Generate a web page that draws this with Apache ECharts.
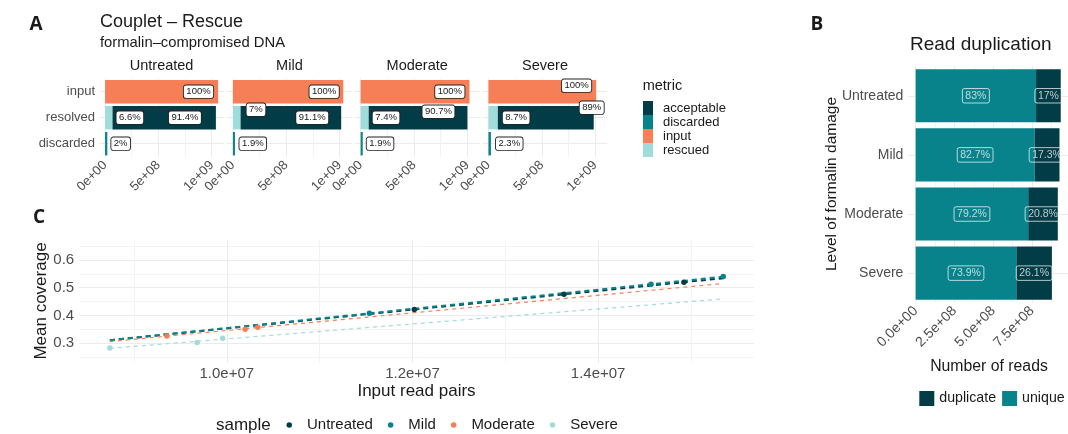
<!DOCTYPE html>
<html>
<head>
<meta charset="utf-8">
<title>Couplet – Rescue</title>
<script src="https://cdn.jsdelivr.net/npm/echarts@6/dist/echarts.min.js"></script>
<style>
  html, body { margin: 0; padding: 0; background: #fff; }
  #chart { width: 1068px; height: 434px; }
</style>
</head>
<body>
<div id="chart"></div>
<script>
// ---- Panel A: fate of input reads per damage level ----
const damageLevels = ['Untreated', 'Mild', 'Moderate', 'Severe'];
const fateRows = ['input', 'resolved', 'discarded'];
const metrics = ['acceptable', 'discarded', 'input', 'rescued'];
const inputReads = [1.06e9, 1.035e9, 1.02e9, 1.01e9];
const rescuedPct = [6.6, 7, 7.4, 8.7];
const acceptablePct = [91.4, 91.1, 90.7, 89];
const discardedPct = [2, 1.9, 1.9, 2.3];

// ---- Panel B: read duplication ----
const dupLevels = ['Untreated', 'Mild', 'Moderate', 'Severe'];
const totalReads = [9.35e8, 9.27e8, 9.16e8, 8.78e8];
const uniquePct = [83, 82.7, 79.2, 73.9];
const duplicatePct = [17, 17.3, 20.8, 26.1];

// ---- Panel C: coverage vs input read pairs ----
const samples = ['Untreated', 'Mild', 'Moderate', 'Severe'];
const untreatedPairs = [1.202e7, 1.3633e7, 1.4925e7];
const untreatedCoverage = [0.422, 0.476, 0.520];
const mildPairs = [1.1536e7, 1.457e7, 1.5348e7];
const mildCoverage = [0.408, 0.512, 0.540];
const moderatePairs = [9.354e6, 1.0197e7, 1.0334e7];
const moderateCoverage = [0.326, 0.351, 0.358];
const severePairs = [8.74e6, 9.68e6, 9.955e6];
const severeCoverage = [0.283, 0.303, 0.318];
const coverageLimits = [0.25, 0.65];

// ---- styling ----
const FONT = "'Liberation Sans', Arial, sans-serif";
const INK = '#1a1a1a';
const AXIS_TXT = '#4d4d4d';
const GRID_MAJOR = '#ebebeb';
const GRID_MINOR = '#f3f3f3';
const CLEAR = 'rgba(0,0,0,0)';
const COL = { acceptable: '#023c46', discarded: '#08838b', input: '#f67f58', rescued: '#a0dcda' };
const SAMPLE_COL = ['#023c46', '#08838b', '#f67f58', '#a0dcda'];

// label nudges for the boxed percentages in panel A (px)
const labelNudge = {
  input:      [[-5, 0], [-4.5, 0], [-5, 0], [-5, -6]],
  acceptable: [[-15, 0], [-13, 0], [-13, -6], [10, -10]],
  rescued:    [[4, 0], [6, -8], [4, 0], [5, 0]],
  discarded:  [[4, 0], [4.5, 0], [4, 0], [5, 0]]
};

function sci(v, digits) {
  const parts = v.toExponential(digits).split('e');
  const e = parts[1];
  return parts[0] + 'e' + e[0] + e.slice(1).padStart(2, '0');
}

const grids = [], xAxes = [], yAxes = [], series = [];

// ---------- Panel A facets ----------
const facetLeft0 = 99.4, facetStep = 127.8, facetWidth = 124.4, facetTop = 78.7, facetHeight = 78;
const maxInput = Math.max(...inputReads);
const labelBoxA = {
  show: true, fontFamily: FONT, fontSize: 9.5, color: INK,
  backgroundColor: '#fff', borderColor: '#222', borderWidth: 0.9, borderRadius: 2,
  padding: [1.5, 2.5, 1, 2.5]
};

damageLevels.forEach((lvl, fi) => {
  grids.push({ left: facetLeft0 + fi * facetStep, top: facetTop, width: facetWidth, height: facetHeight });
  xAxes.push({
    type: 'value', gridIndex: fi,
    min: -0.05 * maxInput, max: 1.05 * maxInput,
    splitNumber: 2, minInterval: 5e8, maxInterval: 5e8,
    axisLine: { show: false }, axisTick: { show: false },
    axisLabel: { rotate: 45, margin: 6.5, fontSize: 13, color: AXIS_TXT, fontFamily: FONT,
      showMinLabel: false, showMaxLabel: false, formatter: v => sci(v, 0) },
    splitLine: { show: true, showMinLine: false, showMaxLine: false, lineStyle: { color: GRID_MAJOR, width: 1 } },
    minorTick: { show: false, splitNumber: 2 },
    minorSplitLine: { show: true, lineStyle: { color: GRID_MINOR, width: 1 } }
  });
  yAxes.push({
    type: 'category', gridIndex: fi, data: fateRows, inverse: true,
    axisLine: { show: false }, axisTick: { show: false },
    axisLabel: { show: fi === 0, margin: 4.4, fontSize: 13, color: AXIS_TXT, fontFamily: FONT }
  });
  yAxes.push({
    type: 'value', gridIndex: fi, min: 0, max: 6, interval: 1,
    axisLine: { show: false }, axisTick: { show: false }, axisLabel: { show: false },
    splitLine: { show: true, lineStyle: { color: [CLEAR, GRID_MAJOR], width: 1 } }
  });

  const inp = inputReads[fi];
  const parts = {
    rescued:    { row: 1, pct: rescuedPct[fi], pos: 'right' },
    acceptable: { row: 1, pct: acceptablePct[fi], pos: 'insideRight' },
    input:      { row: 0, pct: 100, pos: 'insideRight' },
    discarded:  { row: 2, pct: discardedPct[fi], pos: 'right' }
  };
  ['rescued', 'acceptable', 'input', 'discarded'].forEach(m => {
    const p = parts[m];
    const data = fateRows.map((_, r) => r === p.row ? {
      value: inp * p.pct / 100,
      label: { show: true, position: p.pos, distance: 0, offset: labelNudge[m][fi], formatter: p.pct + '%' }
    } : '-');
    series.push({
      type: 'bar', name: m, xAxisIndex: fi, yAxisIndex: fi * 2, stack: 'fate' + fi,
      barWidth: '90%', itemStyle: { color: COL[m] }, label: labelBoxA, data
    });
  });
});

// ---------- Panel B ----------
const maxTotal = Math.max(...totalReads);
grids.push({ left: 908.4, top: 66.2, width: 161.3, height: 236.5 });
xAxes.push({
  type: 'value', gridIndex: 4,
  min: -0.05 * maxTotal, max: 1.05 * maxTotal,
  splitNumber: 4, minInterval: 2.5e8, maxInterval: 2.5e8,
  axisLine: { show: false }, axisTick: { show: false },
  axisLabel: { rotate: 45, margin: 6, fontSize: 14, color: AXIS_TXT, fontFamily: FONT,
    showMinLabel: false, showMaxLabel: false, formatter: v => sci(v, 1) },
  splitLine: { show: true, showMinLine: false, showMaxLine: false, lineStyle: { color: GRID_MAJOR, width: 1 } },
  minorTick: { show: false, splitNumber: 2 },
  minorSplitLine: { show: true, lineStyle: { color: GRID_MINOR, width: 1 } }
});
yAxes.push({
  type: 'category', gridIndex: 4, data: dupLevels, inverse: true,
  axisLine: { show: false }, axisTick: { show: false },
  axisLabel: { margin: 5, fontSize: 14, color: AXIS_TXT, fontFamily: FONT }
});
yAxes.push({
  type: 'value', gridIndex: 4, min: 0, max: 8, interval: 1,
  axisLine: { show: false }, axisTick: { show: false }, axisLabel: { show: false },
  splitLine: { show: true, lineStyle: { color: [CLEAR, GRID_MAJOR], width: 1 } }
});
const labelBoxB = {
  show: true, position: 'inside', fontFamily: FONT, fontSize: 10.5,
  color: 'rgba(255,255,255,0.72)', borderColor: 'rgba(255,255,255,0.7)', borderWidth: 1,
  borderRadius: 2, padding: [2, 3, 1.5, 3]
};
series.push({
  type: 'bar', name: 'unique', xAxisIndex: 4, yAxisIndex: 8, stack: 'dup', barWidth: '90%',
  itemStyle: { color: COL.discarded }, label: labelBoxB,
  data: totalReads.map((t, i) => ({ value: t * uniquePct[i] / 100, label: { formatter: uniquePct[i] + '%' } }))
});
series.push({
  type: 'bar', name: 'duplicate', xAxisIndex: 4, yAxisIndex: 8, stack: 'dup', barWidth: '90%',
  itemStyle: { color: COL.acceptable }, label: labelBoxB,
  data: totalReads.map((t, i) => ({ value: t * duplicatePct[i] / 100, label: { formatter: duplicatePct[i] + '%' } }))
});

// ---------- Panel C ----------
const pairsBySample = [untreatedPairs, mildPairs, moderatePairs, severePairs];
const coverageBySample = [untreatedCoverage, mildCoverage, moderateCoverage, severeCoverage];
const allPairs = [].concat(...pairsBySample);
const pairLo = Math.min(...allPairs), pairHi = Math.max(...allPairs);
const pairPad = 0.05 * (pairHi - pairLo);
const covPad = 0.05 * (coverageLimits[1] - coverageLimits[0]);

grids.push({ left: 79.2, top: 240.4, width: 674.7, height: 122.4 });
xAxes.push({
  type: 'value', gridIndex: 5,
  min: pairLo - pairPad, max: pairHi + pairPad,
  splitNumber: 3, minInterval: 2e6, maxInterval: 2e6,
  axisLine: { show: false }, axisTick: { show: false },
  axisLabel: { margin: 4, fontSize: 15, color: AXIS_TXT, fontFamily: FONT,
    showMinLabel: false, showMaxLabel: false, formatter: v => sci(v, 1) },
  splitLine: { show: true, showMinLine: false, showMaxLine: false, lineStyle: { color: GRID_MAJOR, width: 1 } },
  minorTick: { show: false, splitNumber: 2 },
  minorSplitLine: { show: true, lineStyle: { color: GRID_MINOR, width: 1 } }
});
yAxes.push({
  type: 'value', gridIndex: 5,
  min: coverageLimits[0] - covPad, max: coverageLimits[1] + covPad,
  splitNumber: 4, minInterval: 0.1, maxInterval: 0.1,
  axisLine: { show: false }, axisTick: { show: false },
  axisLabel: { margin: 5, fontSize: 15, color: AXIS_TXT, fontFamily: FONT,
    showMinLabel: false, showMaxLabel: false, formatter: v => v.toFixed(1) },
  splitLine: { show: true, showMinLine: false, showMaxLine: false, lineStyle: { color: GRID_MAJOR, width: 1 } },
  minorTick: { show: false, splitNumber: 2 },
  minorSplitLine: { show: true, lineStyle: { color: GRID_MINOR, width: 1 } }
});

// least-squares line through one sample's points
function linearFit(xs, ys) {
  const n = xs.length;
  const mx = xs.reduce((a, b) => a + b, 0) / n;
  const my = ys.reduce((a, b) => a + b, 0) / n;
  let sxy = 0, sxx = 0;
  for (let i = 0; i < n; i++) { sxy += (xs[i] - mx) * (ys[i] - my); sxx += (xs[i] - mx) ** 2; }
  const slope = sxy / sxx;
  return x => my + slope * (x - mx);
}

samples.forEach((s, si) => {
  series.push({
    type: 'scatter', name: s, xAxisIndex: 5, yAxisIndex: 10, symbolSize: 5.5, z: 4,
    itemStyle: { color: SAMPLE_COL[si], opacity: 1 },
    data: pairsBySample[si].map((x, i) => [x, coverageBySample[si][i]])
  });
});
samples.forEach((s, si) => {
  const f = linearFit(pairsBySample[si], coverageBySample[si]);
  const heavy = si < 2;
  series.push({
    type: 'line', name: s, xAxisIndex: 5, yAxisIndex: 10, showSymbol: false, symbol: 'none', z: 3,
    lineStyle: { color: SAMPLE_COL[si], width: heavy ? 2 : 1.2, type: heavy ? [5, 4] : [4, 4] },
    data: [[pairLo, f(pairLo)], [pairHi, f(pairHi)]]
  });
});

// ---------- free text ----------
function txt(text, x, y, size, extra) {
  return Object.assign({
    type: 'text', x, y, silent: true,
    style: Object.assign({
      text, fill: INK, fontSize: size, fontFamily: FONT,
      align: 'left', verticalAlign: 'middle', textAlign: 'left', textVerticalAlign: 'middle'
    }, (extra && extra.style) || {})
  }, (extra && extra.el) || {});
}
const centered = { align: 'center', textAlign: 'center' };
const letter = { fontFamily: "'Open Sans', 'DejaVu Sans', sans-serif", fontWeight: 'bold', align: 'center', textAlign: 'center' };

const graphics = [
  txt('A', 36, 25, 19, { style: letter }),
  txt('B', 817, 25, 19, { style: letter }),
  txt('C', 39, 218, 19, { style: letter }),
  txt('Couplet \u2013 Rescue', 100, 22, 18),
  txt('formalin\u2013compromised DNA', 100, 43, 14.8),
  txt('metric', 642.7, 86, 14.5),
  txt('Read duplication', 910, 45, 19),
  txt('Level of formalin damage', 831.7, 184, 15.5, { style: centered, el: { rotation: Math.PI / 2 } }),
  txt('Number of reads', 989, 366.7, 15.8, { style: centered }),
  txt('Mean coverage', 41.7, 301, 17, { style: centered, el: { rotation: Math.PI / 2 } }),
  txt('Input read pairs', 416.5, 391, 17, { style: centered }),
  txt('sample', 216, 425, 17)
];
damageLevels.forEach((lvl, fi) => {
  graphics.push(txt(lvl, facetLeft0 + fi * facetStep + facetWidth / 2, 65.7, 14.5, { style: centered }));
});

const chart = echarts.init(document.getElementById('chart'), null, { renderer: 'canvas' });
chart.setOption({
  animation: false,
  backgroundColor: '#fff',
  textStyle: { fontFamily: FONT },
  grid: grids,
  xAxis: xAxes,
  yAxis: yAxes,
  legend: [
    {
      data: metrics, orient: 'vertical', left: 643, top: 101, padding: 0,
      icon: 'rect', itemWidth: 10, itemHeight: 14, itemGap: 0, selectedMode: false,
      textStyle: { fontSize: 13, color: INK, fontFamily: FONT, lineHeight: 14, padding: [0, 0, 0, 5] }
    },
    {
      data: ['duplicate', 'unique'], orient: 'horizontal', left: 919.3, top: 391, padding: 0,
      icon: 'rect', itemWidth: 15, itemHeight: 15, itemGap: 6, selectedMode: false,
      textStyle: { fontSize: 14.2, color: INK, fontFamily: FONT }
    },
    {
      data: samples, orient: 'horizontal', left: 286.5, top: 417.5, padding: 0,
      icon: 'circle', itemWidth: 5.5, itemHeight: 5.5, itemGap: 15, selectedMode: false,
      textStyle: { fontSize: 15, color: INK, fontFamily: FONT, padding: [0, 0, 0, 10] }
    }
  ],
  graphic: graphics,
  series
});
</script>
</body>
</html>
